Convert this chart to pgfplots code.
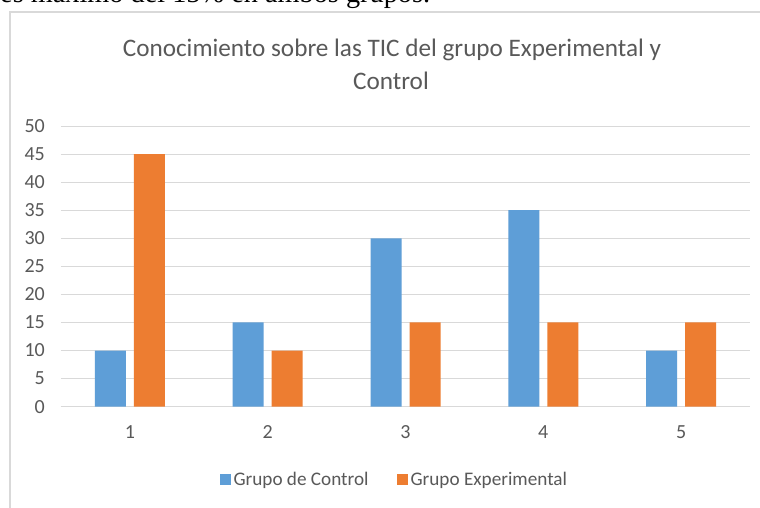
\documentclass[border=0pt]{standalone}
\usepackage{pgfplots}
\pgfplotsset{compat=1.18}
\usepackage{fontspec}
\setmainfont{Carlito}
\newfontfamily\serifdoc{Liberation Serif}
\definecolor{cblue}{HTML}{5E9ED7}
\definecolor{corange}{HTML}{ED7D31}
\definecolor{cgrid}{HTML}{D9D9D9}
\definecolor{ctext}{HTML}{595959}
\begin{document}
\begin{tikzpicture}[x=1pt,y=1pt]
\useasboundingbox (0pt,0pt) rectangle (760pt,507pt);
\clip (0pt,0pt) rectangle (760pt,507pt);
\fill[white] (0pt,0pt) rectangle (760pt,507pt);
% text of the surrounding document, cut at the top
\node[anchor=base west, inner sep=0, font=\serifdoc\fontsize{28.3}{32}\selectfont] at (0pt,504pt) {es máximo del 15\% en ambos grupos.};
% chart border
\draw[cgrid, line width=1.5pt] (10pt,-10pt) -- (10pt,495pt) -- (790pt,495pt);
% title
\node[anchor=base, inner sep=0, text=ctext, font=\fontsize{25.2}{30}\selectfont] at (392pt,450.3pt) {Conocimiento sobre las TIC del grupo Experimental y};
\node[anchor=base, inner sep=0, text=ctext, font=\fontsize{25.2}{30}\selectfont] at (391pt,417.7pt) {Control};
\begin{axis}[
  at={(61pt,100.3pt)}, anchor=south west,
  width=689pt, height=280.7pt, scale only axis,
  xmin=0.5, xmax=5.5, ymin=0, ymax=50,
  xtick={1,2,3,4,5}, ytick={0,5,...,50},
  ybar=8pt, bar width=31pt,
  axis line style={draw=none},
  axis x line*=bottom, axis y line*=left,
  x axis line style={draw=cgrid, line width=1pt, -},
  y axis line style={draw=none},
  ymajorgrids, grid style={cgrid, line width=1pt},
  major tick length=0pt,
  tick label style={text=ctext, font=\fontsize{20}{24}\selectfont},
  yticklabel style={anchor=east, inner sep=0pt, xshift=-16pt},
  xticklabel style={anchor=north, inner sep=0pt, yshift=-19pt},
  /pgf/number format/assume math mode=true,
  legend columns=2,
  legend style={at={(axis description cs:0.4845,-0.2604)}, anchor=center,
    draw=none, fill=none, text=ctext, font=\fontsize{19.2}{23}\selectfont,
    nodes={inner sep=2.5pt},
    /tikz/every even column/.append style={column sep=26pt}},
  legend image code/.code={\fill[#1] (0pt,-5.5pt) rectangle (11pt,5.5pt);},
]
\addplot[fill=cblue, draw=none] coordinates {(1,10) (2,15) (3,30) (4,35) (5,10)};
\addplot[fill=corange, draw=none] coordinates {(1,45) (2,10) (3,15) (4,15) (5,15)};
\legend{Grupo de Control, Grupo Experimental}
\end{axis}
\end{tikzpicture}
\end{document}
